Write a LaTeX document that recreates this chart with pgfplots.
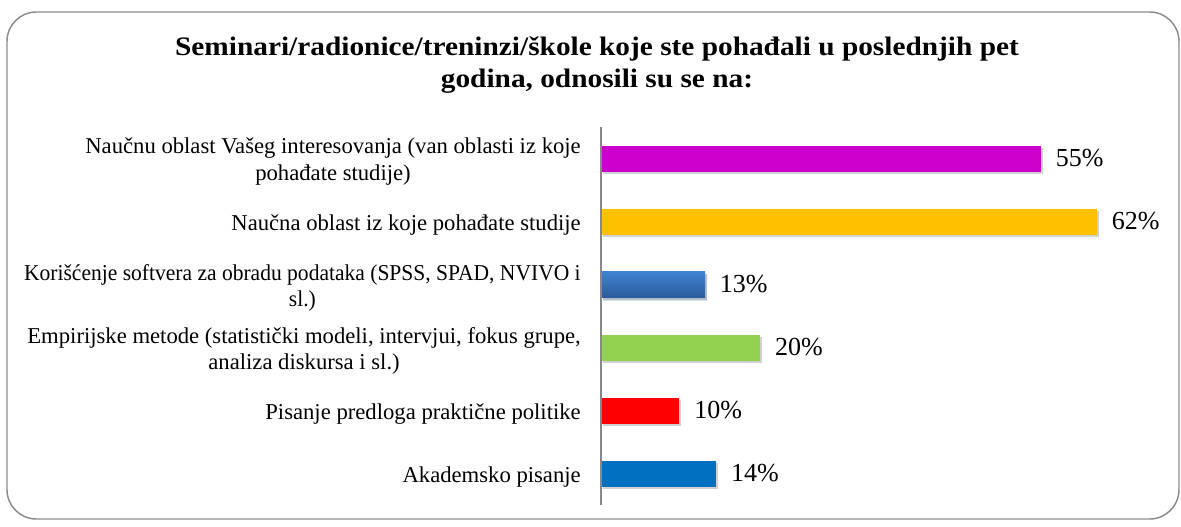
\documentclass[border=0pt]{standalone}
\usepackage{fontspec}
\setmainfont{Liberation Serif}
\newfontfamily\labnarrow{Liberation Serif}[FakeStretch=0.95]
\newfontfamily\titfam{Liberation Serif}[FakeStretch=1.1]
\usepackage{pgfplots}
\pgfplotsset{compat=1.18}
\definecolor{cMag}{HTML}{CC00CC}
\definecolor{cGold}{HTML}{FFC000}
\definecolor{cBlueT}{HTML}{3F82D4}
\definecolor{cBlueB}{HTML}{2B5C9B}
\definecolor{cGreen}{HTML}{92D050}
\definecolor{cRed}{HTML}{FF0000}
\definecolor{cBlue}{HTML}{0070C0}
\definecolor{frameg}{HTML}{8C8C8C}
\definecolor{axisg}{HTML}{888888}
\newcommand\labfont{\fontsize{17}{20}\selectfont}
\newcommand\valfont{\fontsize{19.5}{22}\selectfont}
\newcommand\titfont{\titfam\fontsize{20}{24}\selectfont\bfseries}
\tikzset{barshadow/.style={preaction={fill=black, fill opacity=0.18, transform canvas={xshift=1.5pt,yshift=-2pt}}}}
\begin{document}
\begin{tikzpicture}
\path[use as bounding box] (0pt,0pt) rectangle (885.75pt,-395.25pt);
\draw[color=frameg, line width=1.1pt, rounded corners=22pt] (5.25pt,-9pt) rectangle (884.25pt,-389.25pt);
\node[font=\titfont, anchor=base, inner sep=0pt] at (447.75pt,-42pt) {Seminari/radionice/treninzi/škole koje ste pohađali u poslednjih pet};
\node[font=\titfont, anchor=base, inner sep=0pt] at (447.75pt,-65.6pt) {godina, odnosili su se na:};
\begin{axis}[
  at={(450.75pt,-378.75pt)}, anchor=south west,
  scale only axis, width=420pt, height=283.5pt,
  xmin=0, xmax=70, ymin=-0.5, ymax=5.5, y dir=reverse,
  axis line style={draw=none},
  xtick=\empty, ytick={0,1,2,3,4,5},
  yticklabels={{Naučnu oblast Vašeg interesovanja (van oblasti iz koje\\pohađate studije)},
    {Naučna oblast iz koje pohađate studije},
    {\labnarrow Korišćenje softvera za obradu podataka (SPSS, SPAD, NVIVO i\\\labnarrow sl.)},
    {Empirijske metode (statistički modeli, intervjui, fokus grupe,\\analiza diskursa i sl.)},
    {Pisanje predloga praktične politike},
    {Akademsko pisanje}},
  major tick length=0pt,
  yticklabel style={align=center, inner sep=0pt, xshift=-15pt, yshift=-2.5pt, font=\labfont},
  xbar, bar width=19.5pt, bar shift=0pt,
  point meta=x,
  /pgf/number format/assume math mode=true,
  nodes near coords={\pgfmathprintnumber[fixed,precision=0]{\pgfplotspointmeta}\%},
  nodes near coords style={anchor=west, inner sep=0pt, xshift=11pt, font=\valfont, text=black},
  clip=false,
]
\addplot[fill=cMag, draw=none, barshadow] coordinates {(55,0)};
\addplot[fill=cGold, draw=none, barshadow] coordinates {(62,1)};
\addplot[top color=cBlueT, bottom color=cBlueB, draw=none, barshadow] coordinates {(13,2)};
\addplot[fill=cGreen, draw=none, barshadow] coordinates {(19.9,3)};
\addplot[fill=cRed, draw=none, barshadow] coordinates {(9.8,4)};
\addplot[fill=cBlue, draw=none, barshadow] coordinates {(14.4,5)};
\draw[color=axisg, line width=1.1pt] (axis cs:0,-0.5) -- (axis cs:0,5.5);
\end{axis}
\end{tikzpicture}
\end{document}
